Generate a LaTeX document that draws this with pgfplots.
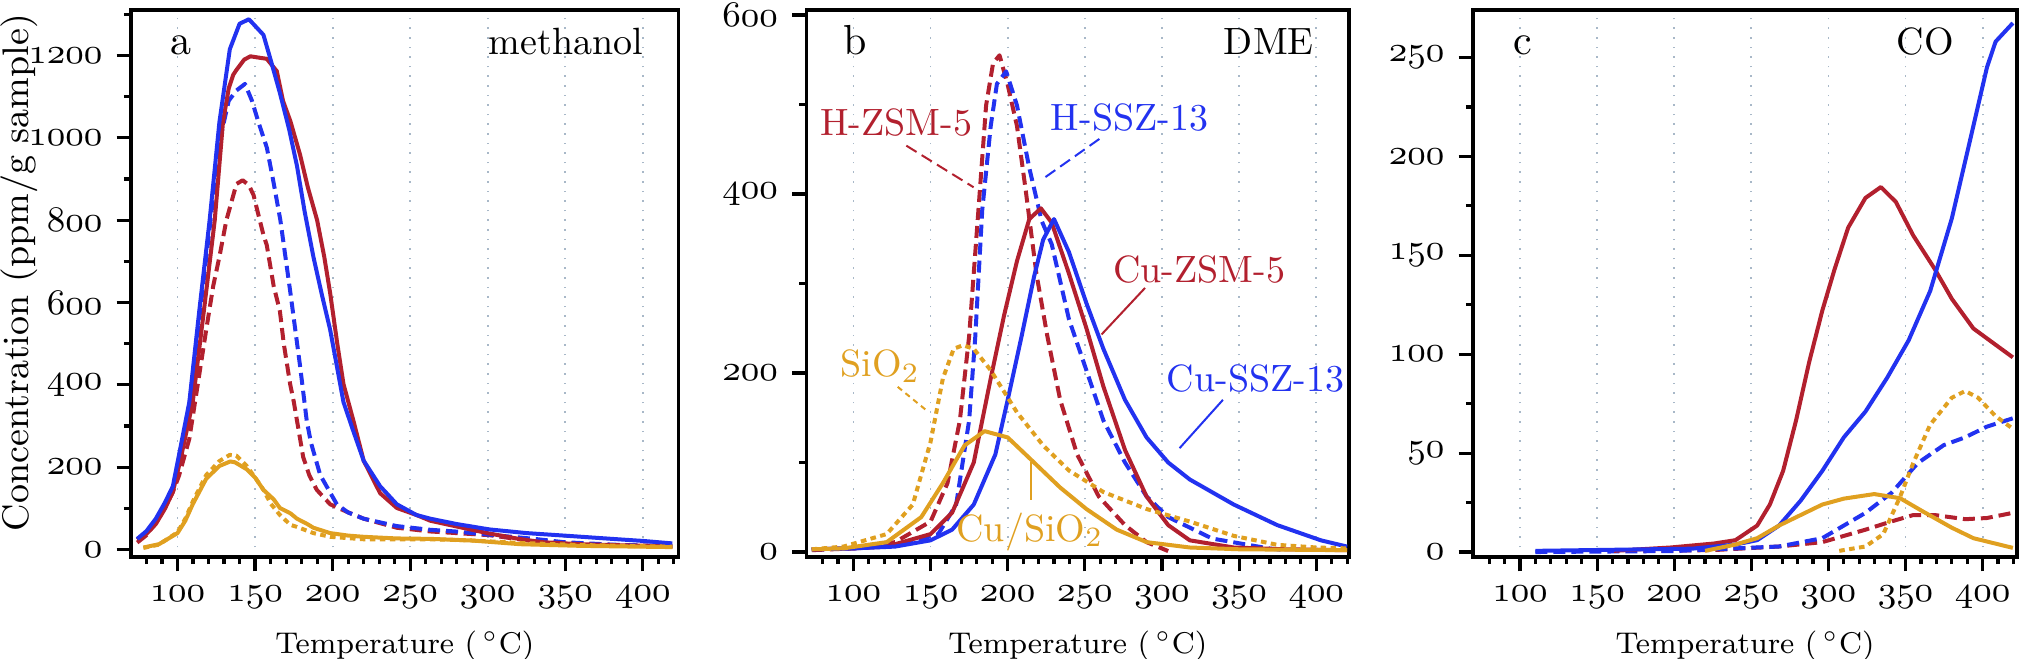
\documentclass[border=0pt]{standalone}
\usepackage{pgfplots}
\pgfplotsset{compat=1.18}
\definecolor{cred}{HTML}{B2202E}
\definecolor{cblue}{HTML}{2232F0}
\definecolor{corange}{HTML}{E0A020}
\definecolor{cgrid}{HTML}{A8B8C8}
\newcommand{\os}[1]{{\usefont{OML}{cmm}{m}{it}#1}}
\tikzset{
  hz/.style={dash pattern=on 3pt off 1.5pt},
  sio/.style={dash pattern=on 1.4pt off 1.1pt},
}
\pgfplotsset{
  panel/.style={
    scale only axis, height=136.75pt,
    anchor=south west,
    axis line style={line width=0.9pt},
    every tick/.style={line width=0.8pt, black},
    tick align=outside,
    xtick pos=bottom, ytick pos=left,
    major tick length=3.6pt, minor tick length=1.8pt,
    xtick={100,150,...,400},
    xticklabels={\os{100},\os{150},\os{200},\os{250},\os{300},\os{350},\os{400}},
    minor xtick={80,90,...,420},
    xmajorgrids, major grid style={cgrid, dotted, line width=0.45pt},
    xlabel={Temperature (\,$^\circ$C)},
    xlabel style={font=\fontsize{7.5}{9}\selectfont, yshift=1pt},
    ticklabel style={font=\fontsize{8.6}{9}\selectfont},
    every axis plot/.append style={line width=1pt, line join=round},
  }
}
\begin{document}
\begin{tikzpicture}
\path[use as bounding box] (0,0) rectangle (506.25pt,164.75pt);
% ---------------- panel a
\begin{axis}[panel, at={(32.75pt,25.5pt)}, width=136.875pt,
  xmin=70, xmax=423, ymin=-18, ymax=1310.5,
  ytick={0,200,...,1200},
  yticklabels={\os{0},\os{200},\os{400},\os{600},\os{800},\os{1000},\os{1200}},
  minor ytick={100,300,...,1300},
  ylabel={Concentration (ppm/g sample)},
  ylabel style={font=\fontsize{9.25}{10}\selectfont, at={(axis description cs:-0.204,0.52)}, anchor=center},
]
% H-ZSM-5 (red dashed)
\addplot[cred, hz] coordinates {(74,17)(80,35)(88,75)(96.7,137)(101,180)(107.6,269)(113,400)(118.5,534)(123,640)(127,711)(131.5,800)(138,888)(142,897)(146,885)(149,861)(155.4,764)(157.5,740)(162,640)(166,579)(168.5,500)(172.6,402)(175,358)(181,225)(185,180)(189.8,145)(198.4,110)(209,92)(220,75)(241.4,53)(263,44)(280,40)(301,35)(320,25)(335,18)(370,12)(419,8)};
% H-SSZ-13 (blue dashed)
\addplot[cblue, hz] coordinates {(74,25)(80,42)(86,70)(92,110)(97,150)(102,240)(107.6,350)(114,560)(120.7,780)(127,990)(133,1090)(138,1115)(143.5,1131)(148,1090)(152,1040)(157.6,976)(162,890)(166.3,800)(172.8,623)(179,446)(183.3,313)(186,260)(192,181)(202.7,110)(210,90)(220,75)(241.4,57)(263,48)(279,44)(307,34)(330,26)(349,18)(380,12)(419,8)};
% Cu-ZSM-5 (red solid)
\addplot[cred] coordinates {(74,24)(80,38)(86,62)(92,100)(97,140)(102,220)(109.8,358)(117,580)(124,800)(129.3,1038)(133,1120)(135.9,1153)(138,1165)(140,1175)(143,1190)(147,1198)(152,1195)(157.5,1192)(164,1162)(168,1090)(172.8,1040)(179,959)(184,880)(190,800)(194.6,711)(198.4,623)(203,500)(207,402)(213.4,313)(220,216)(230.6,137)(241.4,101)(254,84)(263,70)(280,56)(301,39)(320,26)(335,18)(360,13)(390,10)(419,8)};
% Cu-SSZ-13 (blue solid)
\addplot[cblue] coordinates {(74,26)(80,45)(86,75)(92,115)(97,154)(102,250)(107.6,358)(114,579)(120.7,800)(127,1038)(133.7,1215)(140,1277)(146,1288)(150,1272)(155.4,1250)(160,1190)(166,1109)(172,1020)(177,932)(182,820)(187.6,711)(193,620)(198.4,534)(203,440)(207,358)(213.4,287)(220,216)(230.6,154)(241.4,110)(254,84)(263,75)(280,62)(301,49)(325,40)(349,34)(380,26)(400,21)(419,15)};
% SiO2 (orange dotted)
\addplot[corange, sio] coordinates {(78,4)(88,12)(100,42)(105,75)(110,118)(118.5,181)(127,215)(133.7,230)(138,228)(144.6,203)(150,175)(155.4,145)(160,112)(166,84)(172.8,60)(177,55)(187.6,40)(198.4,31)(220,25)(263,25)(290,22)(321,16)(360,11)(419,7)};
% Cu/SiO2 (orange solid)
\addplot[corange] coordinates {(78,5)(88,13)(100,40)(105,70)(109.8,110)(114,140)(118.5,172)(127,203)(134,214)(137,212)(144.6,195)(150,175)(155.4,145)(162,122)(166,101)(172.8,88)(177,75)(183.7,62)(187.6,53)(198.4,40)(210,34)(220,31)(241.4,27)(263,26)(290,22)(321,13)(360,9)(419,6)};
\node[anchor=base west, font=\fontsize{10.5}{11}\selectfont] at (rel axis cs:0.047,0.918) {a};
\node[anchor=base east, font=\fontsize{9.5}{11}\selectfont] at (rel axis cs:0.961,0.918) {methanol};
\end{axis}
% ---------------- panel b
\begin{axis}[panel, at={(201.625pt,25.5pt)}, width=135.625pt,
  xmin=69.6, xmax=421.2, ymin=-5.6, ymax=605.6,
  ytick={0,200,400,600},
  yticklabels={\os{0},\os{200},\os{400},\os{600}},
  minor ytick={100,300,500},
]
\addplot[cred, hz] coordinates {(73,2)(100,4)(127,11)(150,34)(161,77)(169,147)(175,241)(179,335)(182,405)(186,499)(190.5,546)(194.7,555)(200,522)(206,476)(211.6,405)(218.6,311)(225.7,241)(234,170)(245,109)(259,62)(276,30)(290,11)(304,1)};
\addplot[cblue, hz] coordinates {(73,3)(100,4)(130,8)(155,20)(166.6,53)(175,147)(179,241)(183.5,382)(189,476)(193,523)(199,537)(206,499)(214,429)(222,370)(228.5,344)(239.7,260)(251,203)(262,147)(276,100)(290,62)(304,39)(332.5,15)(369,4)(380,2)};
\addplot[cred] coordinates {(73,3)(100,4)(121.6,6)(150,20)(164,44)(178,100)(189,194)(197.6,264)(206,325)(214,372)(221.5,384)(228.5,368)(239.7,311)(251,250)(262,185)(276,114)(290,62)(304,30)(318,13)(346.5,5)(380,3)(420,2)};
\addplot[cblue] coordinates {(73,3)(100,4)(127,6)(150,13)(164,25)(178,53)(192,109)(200,170)(209,241)(217,307)(223,349)(230,372)(239.7,335)(251,278)(262,227)(276,170)(290,128)(304,100)(318,81)(346.5,53)(374.7,30)(403,13)(420,6)};
\addplot[corange, sio] coordinates {(73,3)(93.5,6)(121.6,20)(138.5,53)(150,123)(158,194)(165,227)(171,231)(178,227)(189,203)(206,156)(223,119)(239.7,91)(262,67)(290,48)(318,34)(346.5,18)(374.7,8)(400,5)(420,4)};
\addplot[corange] coordinates {(73,3)(93.5,4)(121.6,11)(144,39)(158,77)(172,119)(185,135)(200,128)(214,105)(234,72)(251,48)(270.6,25)(290,11)(318,5)(350,3)(420,2)};
\node[anchor=base west, font=\fontsize{10.5}{11}\selectfont] at (rel axis cs:0.043,0.918) {b};
\node[anchor=base east, font=\fontsize{9.5}{11}\selectfont] at (rel axis cs:0.961,0.918) {DME};
\begin{scope}[font=\fontsize{9.5}{11}\selectfont]
\node[cred] at (axis cs:127.8,480) {H-ZSM-5};
\draw[cred, hz, line width=0.5pt] (axis cs:134.3,454) -- (axis cs:177.9,407.5);
\node[cblue] at (axis cs:279,485) {H-SSZ-13};
\draw[cblue, hz, line width=0.5pt] (axis cs:259.4,461.5) -- (axis cs:222.9,417);
\node[cred] at (axis cs:324,316) {Cu-ZSM-5};
\draw[cred, line width=0.5pt] (axis cs:289,295) -- (axis cs:260.8,243);
\node[cblue] at (axis cs:360.6,194) {Cu-SSZ-13};
\draw[cblue, line width=0.5pt] (axis cs:339.5,170) -- (axis cs:311.4,116);
\node[corange] at (axis cs:117.4,208) {SiO$_2$};
\draw[corange, sio, line width=0.5pt] (axis cs:128.7,184.5) -- (axis cs:147,158.7);
\node[corange] at (axis cs:214.4,22.5) {Cu/SiO$_2$};
\draw[corange, line width=0.5pt] (axis cs:215,100) -- (axis cs:215,58);
\end{scope}
\end{axis}
% ---------------- panel c
\begin{axis}[panel, at={(368.25pt,25.5pt)}, width=136pt,
  xmin=69.5, xmax=422.3, ymin=-2.5, ymax=274,
  ytick={0,50,...,250},
  yticklabels={\os{0},\os{50},\os{100},\os{150},\os{200},\os{250}},
  minor ytick={25,75,...,225},
]
\addplot[cred, hz] coordinates {(180,0.5)(225.7,1)(268,2.8)(296,5)(324,11.3)(341,15.5)(355,18.7)(369,18.7)(388.7,16.6)(402.8,17.2)(419.6,19.8)};
\addplot[cblue, hz] coordinates {(110,0)(200,0.5)(268,2.8)(296,7)(324,19.8)(341,30)(358,45)(374.7,54)(388.7,58)(402.8,63.4)(419.6,67.6)};
\addplot[cred] coordinates {(161,0.6)(197.6,2.3)(225.7,4.3)(239.7,6)(253.8,13.4)(262,24)(270.6,41)(279,66.5)(287.5,96)(296,122)(304,143)(312.8,164)(324,179)(334,184.5)(343.7,177)(355,160)(369,143)(380,128)(394,113)(408,105)(419.6,98.4)};
\addplot[cblue] coordinates {(110,0.6)(211.6,1.7)(239.7,3.8)(253.8,6)(268,13.4)(282,26)(296,41)(310,58)(324,71)(338,88)(352,107)(366,132)(380,168.6)(391.5,207)(402.8,245)(408.4,258)(419.6,267.4)};
\addplot[corange, sio] coordinates {(307,0.6)(324,2.8)(335.5,9)(346.5,28)(355,45)(366,64.4)(380,78)(388.7,81.4)(397,78)(408.4,68.7)(419.6,62.3)};
\addplot[corange] coordinates {(220,0.6)(239.7,3.8)(253.8,7)(268,13.4)(296,24)(310,27)(329.7,29.3)(346.5,27.2)(360.6,20.8)(380,12.3)(394,7)(419.6,2.1)};
\node[anchor=base west, font=\fontsize{10.5}{11}\selectfont] at (rel axis cs:0.048,0.918) {c};
\node[anchor=base east, font=\fontsize{9.5}{11}\selectfont] at (rel axis cs:0.91,0.918) {CO};
\end{axis}
\end{tikzpicture}
\end{document}
